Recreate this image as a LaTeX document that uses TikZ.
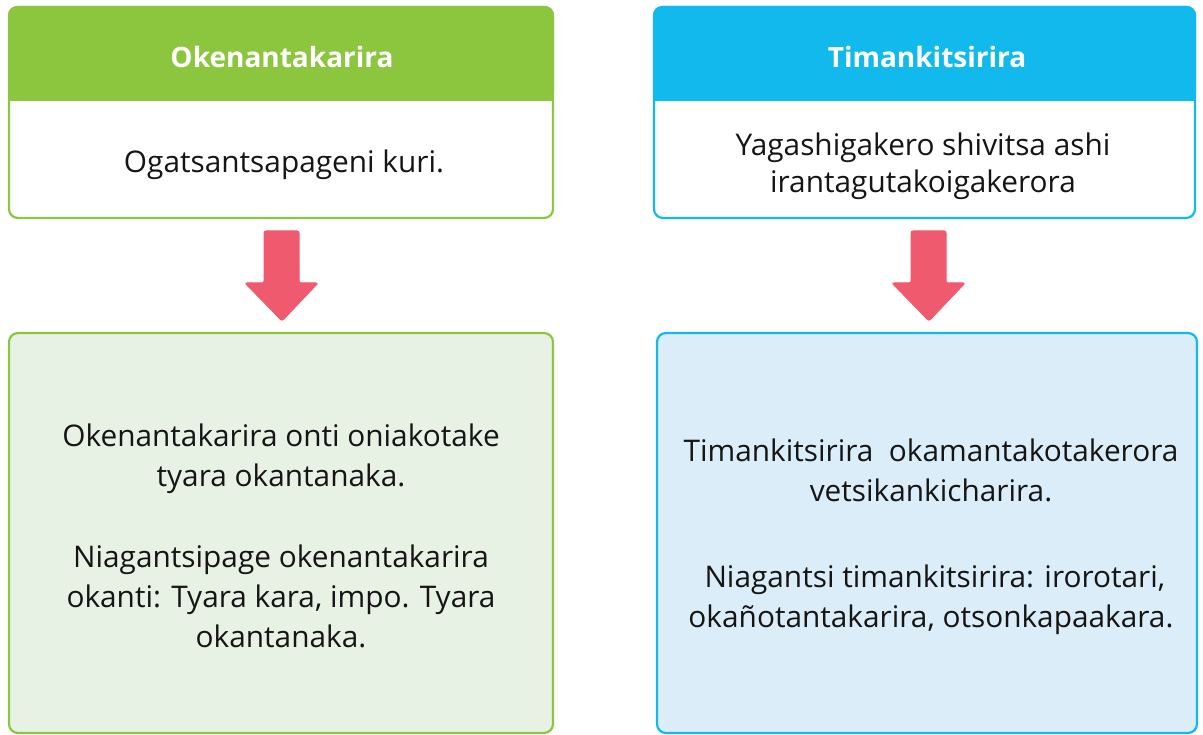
\documentclass[tikz,border=0pt]{standalone}
\usepackage{fontspec}
\setmainfont{Open Sans}
\definecolor{hgreen}{HTML}{8CC63F}
\definecolor{hblue}{HTML}{12B9EC}
\definecolor{lgreen}{HTML}{E7F2E5}
\definecolor{lblue}{HTML}{DAEDF8}
\definecolor{arrowred}{HTML}{F05A6E}
\definecolor{txt}{HTML}{151515}
\tikzset{
  panel/.style={rounded corners=9pt, line width=2.2pt},
  headtxt/.style={text=white, font=\fontsize{28}{32}\selectfont\bfseries},
  bodytxt/.style={text=txt, font=\fontsize{29.8}{40}\selectfont, align=center, inner sep=0pt},
  downarrow/.style={fill=arrowred, draw=arrowred, line width=1pt, rounded corners=2pt}
}
\begin{document}
\begin{tikzpicture}[x=1pt,y=-1pt]
\useasboundingbox (0,0) rectangle (1203,735);
% left top box
\path[panel, draw=hgreen, fill=white] (9,7) rectangle (553,218);
\path[fill=hgreen, rounded corners=9pt] (8,6) -- (554,6) -- (554,101) -- (8,101) -- cycle;
\fill[hgreen] (8,80) rectangle (554,101);
\node[headtxt] (h1) at (282,57) {Okenantakarira};
\node[bodytxt] (t1) at (284,165) {Ogatsantsapageni kuri.};
% right top box
\path[panel, draw=hblue, fill=white] (654,7) rectangle (1195,218);
\path[fill=hblue, rounded corners=9pt] (653,6) -- (1196,6) -- (1196,101) -- (653,101) -- cycle;
\fill[hblue] (653,80) rectangle (1196,101);
\node[headtxt] (h2) at (927,57) {Timankitsirira};
\node[bodytxt, font=\fontsize{29.8}{37}\selectfont] (t2) at (923,166) {Yagashigakero shivitsa ashi\\irantagutakoigakerora};
% arrows
\path[downarrow] (264,231) -- (299,231) -- (299,283) -- (318,283) -- (282,321) -- (245,283) -- (264,283) -- cycle;
\path[downarrow] (911,231) -- (946,231) -- (946,283) -- (965,283) -- (929,321) -- (892,283) -- (911,283) -- cycle;
\coordinate (a1) at (282,321);
\coordinate (a2) at (929,321);
% bottom boxes
\path[panel, draw=hgreen, fill=lgreen] (9,333) rectangle (553,733);
\path[panel, draw=hblue, fill=lblue] (657,333) rectangle (1197,733);
\node[bodytxt] (b1) at (281,536) {Okenantakarira onti oniakotake\\tyara okantanaka.\\[41pt]Niagantsipage okenantakarira\\okanti: Tyara kara, impo. Tyara\\okantanaka.};
\node[bodytxt] (b2) at (931,537) {Timankitsirira\ \ okamantakotakerora\\vetsikankicharira.\\[46pt]\ Niagantsi timankitsirira: irorotari,\\okañotantakarira, otsonkapaakara.};
\end{tikzpicture}
\end{document}
